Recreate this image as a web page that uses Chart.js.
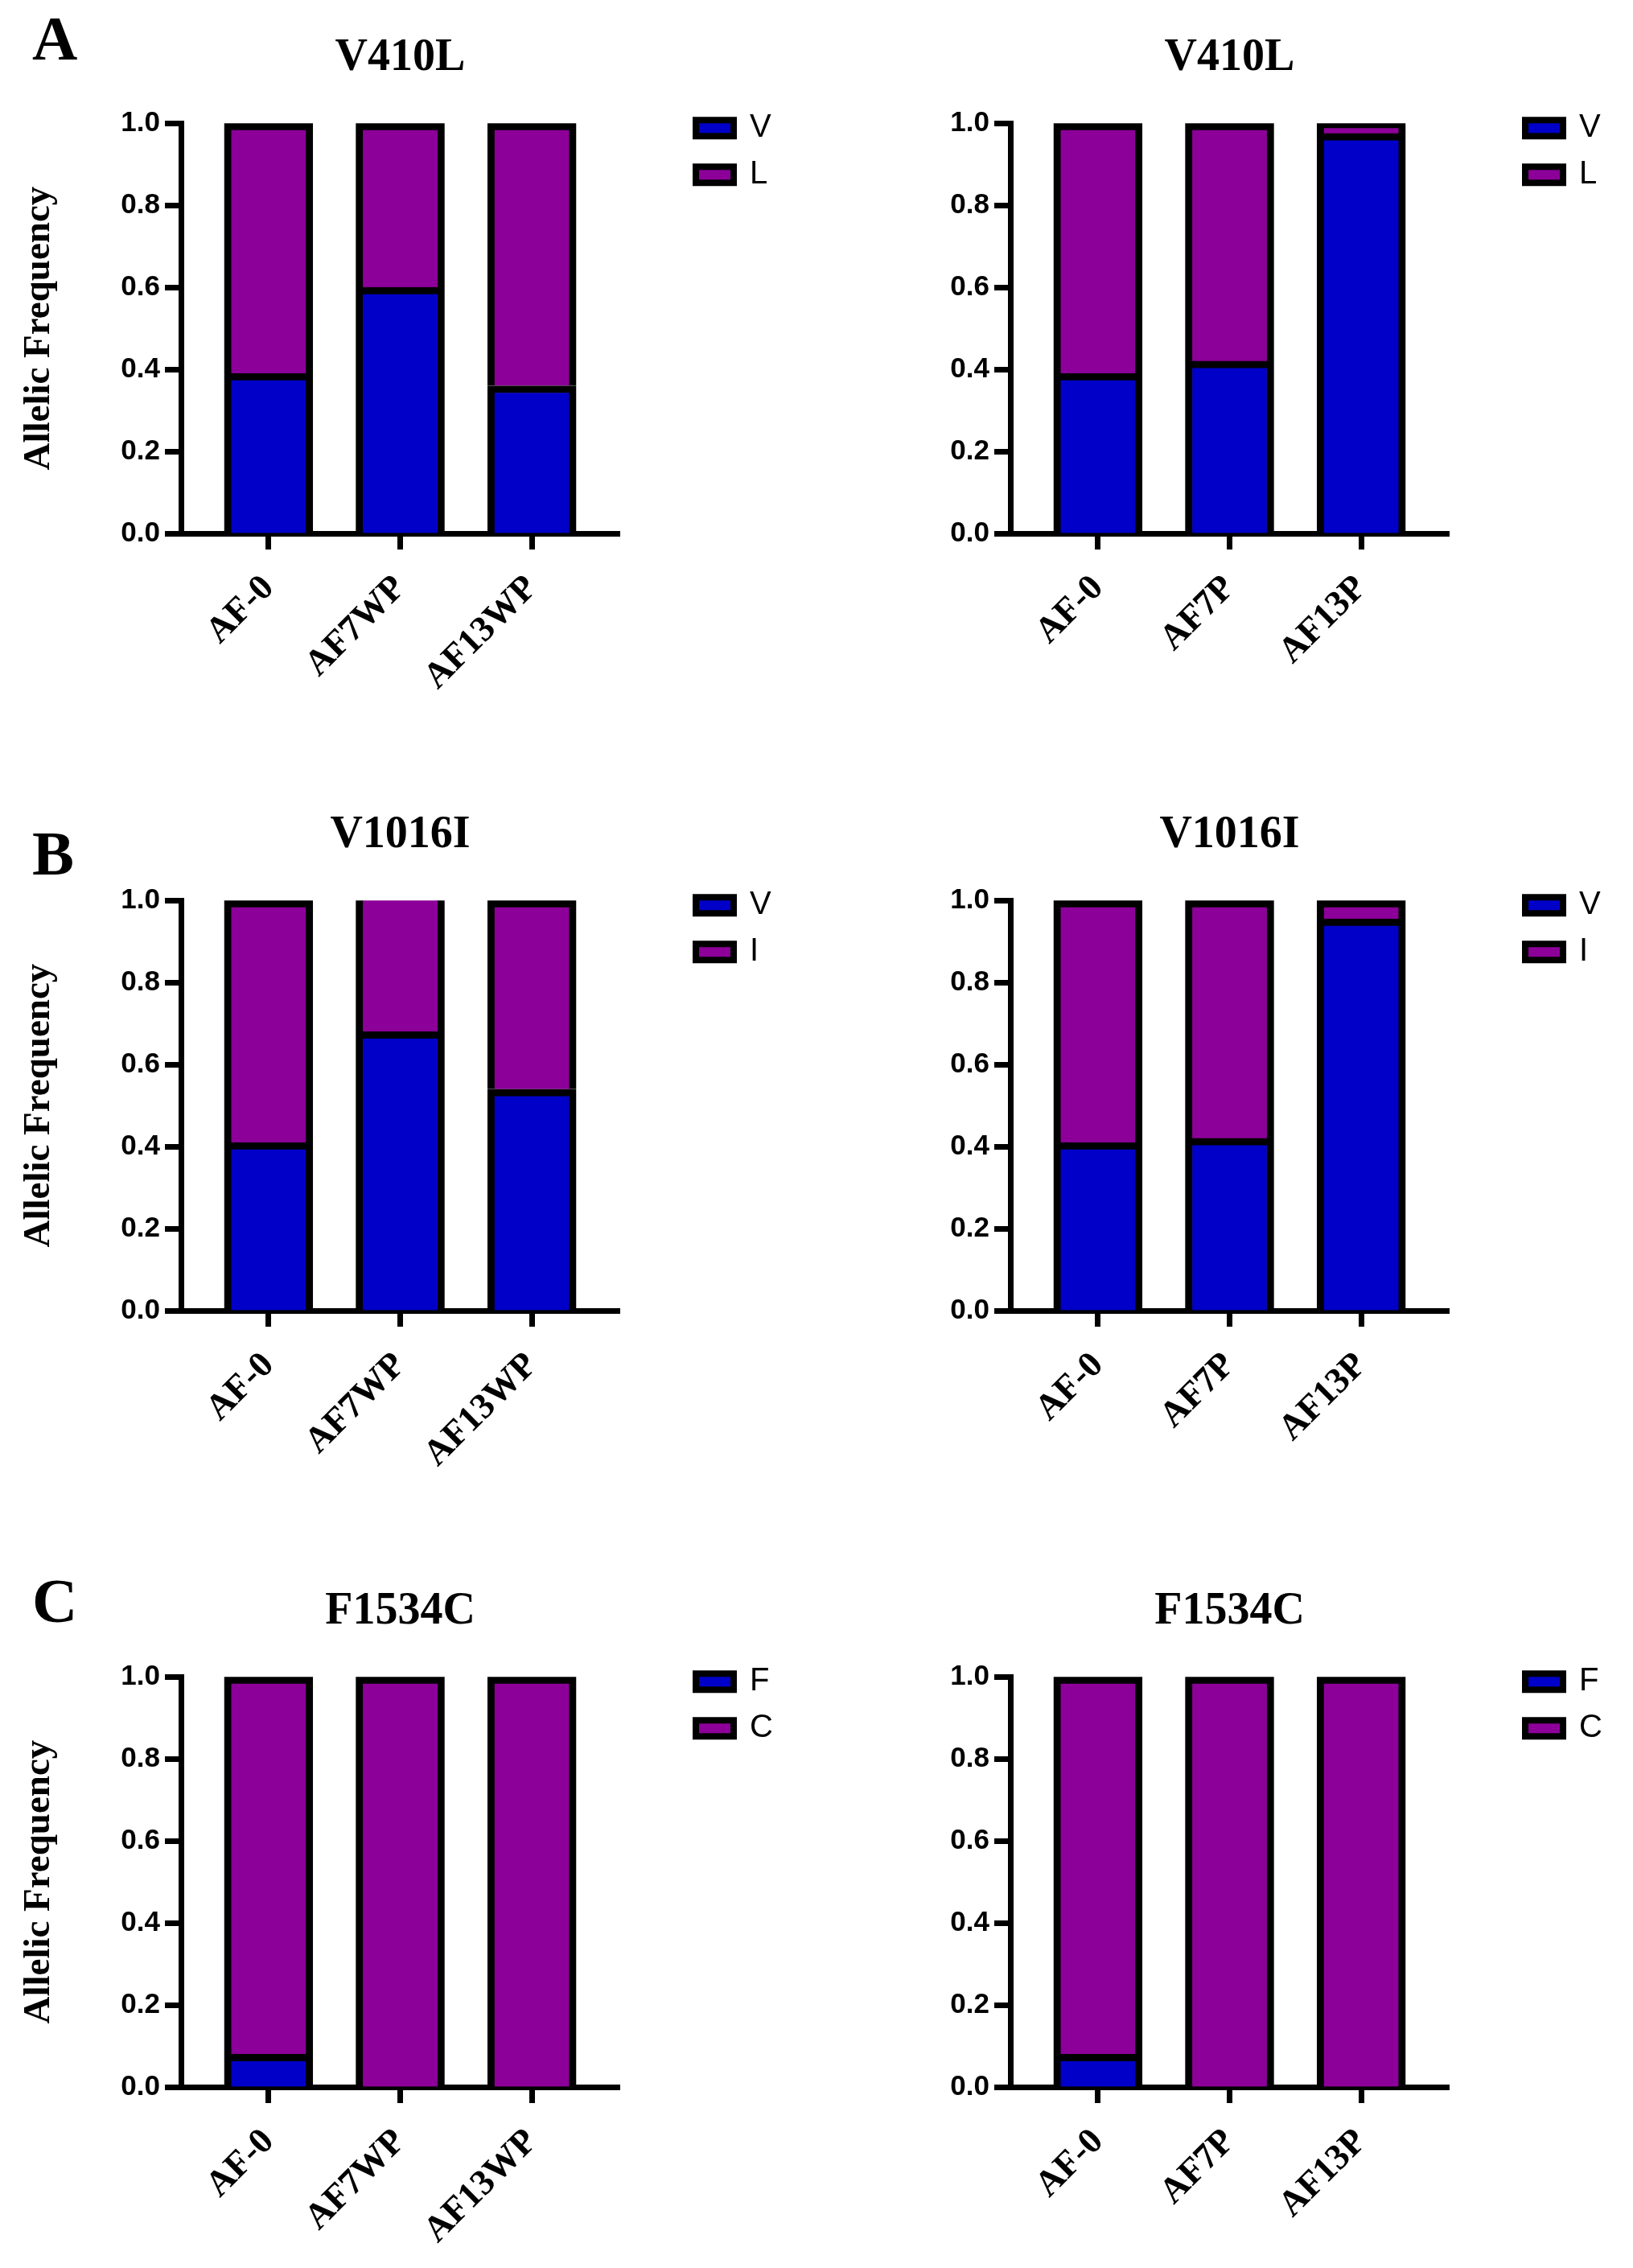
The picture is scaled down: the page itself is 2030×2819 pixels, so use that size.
<!DOCTYPE html>
<html>
<head>
<meta charset="utf-8">
<script src="https://cdn.jsdelivr.net/npm/chart.js@4.4.1/dist/chart.umd.min.js"></script>
<style>
	html, body { margin: 0; padding: 0; background: #fff; overflow: hidden; }
	#page { position: relative; width: 2030px; height: 2819px; }
	canvas { position: absolute; }
	.letter { position: absolute; left: 40px; font: bold 78px 'Liberation Serif', 'Times New Roman', serif; line-height: 1; color: #000; }
</style>
</head>
<body>
<div id="page">
	<div class="letter" style="top:9px">A</div>
	<div class="letter" style="top:1022px">B</div>
	<div class="letter" style="top:1951px">C</div>

	<canvas id="a1" width="990" height="888" style="left:0;top:0"></canvas>
	<canvas id="a2" width="990" height="888" style="left:1031px;top:0"></canvas>
	<canvas id="b1" width="990" height="888" style="left:0;top:966px"></canvas>
	<canvas id="b2" width="990" height="888" style="left:1031px;top:966px"></canvas>
	<canvas id="c1" width="990" height="888" style="left:0;top:1931px"></canvas>
	<canvas id="c2" width="990" height="888" style="left:1031px;top:1931px"></canvas>
</div>

<script>
'use strict';

// categories
const groupsWP = ['AF-0', 'AF7WP', 'AF13WP'];
const groupsP  = ['AF-0', 'AF7P', 'AF13P'];

// y tick labels
const yTicks = [0, 0.2, 0.4, 0.6, 0.8, 1.0];

// V410L
const v410lAlleles = ['V', 'L'];
const v410lWP_V = [0.39, 0.60, 0.36];
const v410lWP_L = [0.61, 0.40, 0.64];
const v410lP_V  = [0.39, 0.42, 0.975];
const v410lP_L  = [0.61, 0.58, 0.025];

// V1016I
const v1016iAlleles = ['V', 'I'];
const v1016iWP_V = [0.41, 0.68, 0.54];
const v1016iWP_I = [0.59, 0.34, 0.46];
const v1016iP_V  = [0.41, 0.42, 0.955];
const v1016iP_I  = [0.59, 0.58, 0.045];

// F1534C
const f1534cAlleles = ['F', 'C'];
const f1534cWP_F = [0.08, 0, 0];
const f1534cWP_C = [0.92, 1, 1];
const f1534cP_F  = [0.08, 0, 0];
const f1534cP_C  = [0.92, 1, 1];

const BLUE   = '#0000C8';
const PURPLE = '#8C0099';
const SERIF  = "'Liberation Serif', 'Times New Roman', serif";
const SANS   = "'Liberation Sans', Arial, sans-serif";

// puts the legend where the reference has it, right of the axis
const legendSpot = {
	id: 'legendSpot',
	beforeDraw(chart) {
		let lg = chart.legend;
		lg.left   = chart.chartArea.right + 77;
		lg.top    = chart.chartArea.top - 32;
		lg.right  = lg.left + 200;
		lg.bottom = lg.top + 300;
	}
};

function drawPanel(id, title, categories, alleles, lower, upper, showYTitle) {
	let ctx = document.getElementById(id).getContext('2d');

	let data = {
		datasets: [
			{
				label          : alleles[0],
				data           : lower.map((v, i) => ({ x: i + 1, y: v })),
				backgroundColor: BLUE
			},
			{
				label          : alleles[1],
				data           : upper.map((v, i) => ({ x: i + 1, y: v })),
				backgroundColor: PURPLE
			}
		].map(ds => Object.assign(ds, {
			borderColor  : '#000',
			borderWidth  : 9,
			barThickness : 110,
			grouped      : false,
			clip         : 0
		}))
	};

	new Chart(ctx, {
		type   : 'bar',
		data   : data,
		plugins: [legendSpot],
		options: {
			responsive: false,
			animation : false,
			events    : [],
			layout    : { padding: { top: 10, left: 10, right: 219, bottom: 15 } },
			plugins   : {
				title: {
					display : true,
					text    : title,
					fullSize: false,
					color   : '#000',
					font    : { family: SERIF, size: 56, weight: 'bold' },
					padding : { top: 29, bottom: 47 }
				},
				legend: {
					display : true,
					position: 'right',
					align   : 'start',
					maxWidth: 1,
					labels  : {
						boxWidth : 47,
						boxHeight: 20,
						padding  : 18,
						color    : '#000',
						font     : { family: SANS, size: 40 },
						generateLabels: chart => Chart.defaults.plugins.legend.labels.generateLabels(chart)
							.map(l => Object.assign(l, { lineWidth: 8, strokeStyle: '#000' }))
					}
				},
				tooltip: { enabled: false }
			},
			scales: {
				x: {
					type  : 'linear',
					min   : 0.335,
					max   : 3.665,
					offset: false,
					z     : 1,
					afterBuildTicks: s => { s.ticks = categories.map((c, i) => ({ value: i + 1 })); },
					afterFit       : s => { s.height = 210; },
					grid  : { offset: false, drawOnChartArea: false, drawTicks: true, tickLength: 20, tickWidth: 7, tickColor: '#000' },
					border: { display: true, width: 7, color: '#000' },
					ticks : {
						autoSkip   : false,
						minRotation: 45,
						maxRotation: 45,
						padding    : 22,
						color      : '#000',
						font       : { family: SERIF, size: 45, weight: 'bold' },
						callback   : v => categories[v - 1]
					}
				},
				y: {
					min    : 0,
					max    : 1,
					stacked: true,
					z      : 1,
					afterBuildTicks: s => { s.ticks = yTicks.map(v => ({ value: v })); },
					afterFit       : s => { s.width = 215; },
					grid  : { drawOnChartArea: false, drawTicks: true, tickLength: 20, tickWidth: 7, tickColor: '#000' },
					border: { display: true, width: 7, color: '#000' },
					ticks : {
						padding : 6,
						color   : '#000',
						font    : { family: SANS, size: 35, weight: 'bold' },
						callback: v => Number(v).toFixed(1)
					},
					title: {
						display: showYTitle,
						text   : 'Allelic Frequency',
						color  : '#000',
						font   : { family: SERIF, size: 47, weight: 'bold' },
						padding: { top: 11, bottom: 0 }
					}
				}
			}
		}
	});
}

drawPanel('a1', 'V410L',  groupsWP, v410lAlleles,  v410lWP_V,  v410lWP_L,  true);
drawPanel('a2', 'V410L',  groupsP,  v410lAlleles,  v410lP_V,   v410lP_L,   false);
drawPanel('b1', 'V1016I', groupsWP, v1016iAlleles, v1016iWP_V, v1016iWP_I, true);
drawPanel('b2', 'V1016I', groupsP,  v1016iAlleles, v1016iP_V,  v1016iP_I,  false);
drawPanel('c1', 'F1534C', groupsWP, f1534cAlleles, f1534cWP_F, f1534cWP_C, true);
drawPanel('c2', 'F1534C', groupsP,  f1534cAlleles, f1534cP_F,  f1534cP_C,  false);
</script>
</body>
</html>
